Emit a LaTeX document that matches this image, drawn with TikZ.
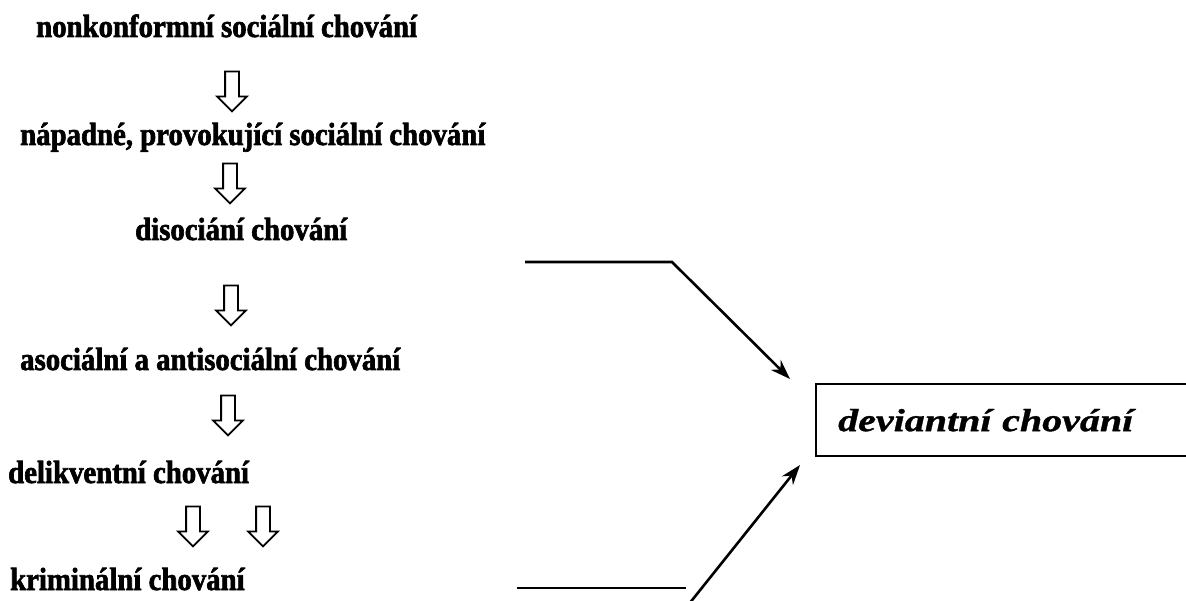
\documentclass[tikz,border=0pt]{standalone}
\usepackage{fontspec}
\setmainfont{Liberation Serif}
\newfontfamily\stagefont[FakeStretch=0.9,FakeBold=2]{Liberation Serif}
\newfontfamily\devfont[FakeStretch=1.25,FakeBold=1]{Liberation Serif}
\usetikzlibrary{shapes.arrows,arrows.meta}

\tikzset{
  stage/.style={anchor=base west, inner sep=0pt, font=\stagefont\fontsize{32}{36}\selectfont\bfseries},
  hollow/.style={draw, line width=1.8pt, single arrow, shape border rotate=270,
    inner sep=6pt, single arrow head extend=8pt, minimum height=40pt},
  link/.style={line width=2.6pt},
  devbox/.style={draw, line width=2.4pt, anchor=north west, minimum height=72pt,
    text width=350pt, inner xsep=22pt, align=left,
    font=\devfont\fontsize{32}{36}\selectfont\bfseries\itshape}
}

\begin{document}
\begin{tikzpicture}[x=1pt,y=-1pt]
\useasboundingbox (0,0) rectangle (1186,601);
\clip (0,0) rectangle (1186,601);
% Drawing stages
\node[stage] (nonk) at (36,37) {nonkonformní sociální chování};
\node[stage] (napa) at (20,145) {nápadné, provokující sociální chování};
\node[stage] (diso) at (135,240) {disociání chování};
\node[stage] (asoc) at (20,370) {asociální a antisociální chování};
\node[stage] (deli) at (8,483) {delikventní chování};
\node[stage] (krim) at (10,590) {kriminální chování};
% Hollow arrows between stages
\node[hollow] (a1) at (232,88) {};
\node[hollow] (a2) at (230,180) {};
\node[hollow] (a3) at (231,302) {};
\node[hollow] (a4) at (228,412) {};
\node[hollow] (a5) at (193,523) {};
\node[hollow] (a6) at (263,523) {};
% Result box
\node[devbox] (dev) at (815,383) {deviantní chování};
% Done with nodes; drawing links
\coordinate (disoStart) at (525,262);
\coordinate (disoBend) at (672,262);
\coordinate (devTop) at (790,379);
\draw[link, -{Stealth[length=20pt,width=14pt]}] (disoStart) -- (disoBend) -- (devTop);
\coordinate (krimStart) at (517,588);
\coordinate (krimEnd) at (686,588);
\draw[link] (krimStart) -- (krimEnd);
\coordinate (krimFoot) at (689,604);
\coordinate (devLow) at (800,465);
\draw[link, -{Stealth[length=20pt,width=14pt]}] (krimFoot) -- (devLow);
\end{tikzpicture}
\end{document}
